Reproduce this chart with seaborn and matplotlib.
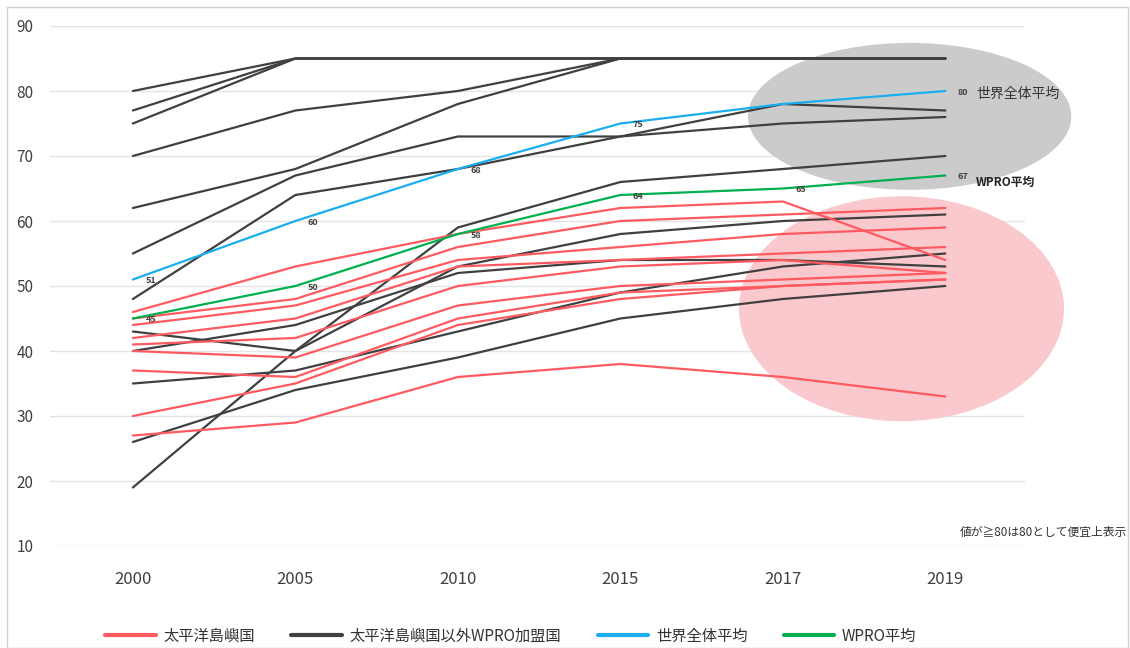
import pandas as pd
import matplotlib
matplotlib.use('Agg')
import matplotlib.pyplot as plt
from matplotlib.patches import Ellipse
from matplotlib.lines import Line2D
import seaborn as sns

years = ['2000', '2005', '2010', '2015', '2017', '2019']

# 太平洋島嶼国 (red)
pacific = [
    [46, 53, 58, 62, 63, 54],
    [45, 48, 56, 60, 61, 62],
    [44, 47, 54, 56, 58, 59],
    [42, 45, 53, 54, 55, 56],
    [41, 42, 50, 53, 54, 52],
    [40, 39, 47, 50, 51, 52],
    [37, 36, 45, 49, 50, 51],
    [30, 35, 44, 48, 50, 51],
    [27, 29, 36, 38, 36, 33],
]

# 太平洋島嶼国以外WPRO加盟国 (dark grey)
other_wpro = [
    [80, 85, 85, 85, 85, 85],
    [77, 85, 85, 85, 85, 85],
    [75, 85, 85, 85, 85, 85],
    [70, 77, 80, 85, 85, 85],
    [62, 68, 78, 85, 85, 85],
    [55, 67, 73, 73, 75, 76],
    [48, 64, 68, 73, 78, 77],
    [43, 40, 53, 58, 60, 61],
    [40, 44, 52, 54, 54, 53],
    [35, 37, 43, 49, 53, 55],
    [26, 34, 39, 45, 48, 50],
    [19, 40, 59, 66, 68, 70],
]

world_avg = [51, 60, 68, 75, 78, 80]
wpro_avg = [45, 50, 58, 64, 65, 67]
world_labels = ['51', '60', '68', '75', '', '80']
wpro_labels = ['45', '50', '58', '64', '65', '67']

groups = ['太平洋島嶼国', '太平洋島嶼国以外WPRO加盟国', '世界全体平均', 'WPRO平均']
colors = ['#ff5a60', '#404040', '#1aaef0', '#00b04f']

# long table for seaborn
rows = []
sid = 0
for grp, series in [(groups[1], other_wpro), (groups[0], pacific),
                    (groups[2], [world_avg]), (groups[3], [wpro_avg])]:
    for s in series:
        for i, v in enumerate(s):
            rows.append({'x': i, 'value': v, 'group': grp, 'sid': sid})
        sid += 1
df = pd.DataFrame(rows)

sns.set_style('white')
plt.rcParams['font.family'] = ['Noto Sans CJK JP', 'DejaVu Sans']

fig = plt.figure(figsize=(11.3, 6.48), dpi=100)
ax = fig.add_axes([50 / 1130, 1 - 546 / 648, 975 / 1130, 520 / 648])

pal = dict(zip(groups, colors))
for grp in [groups[1], groups[0], groups[2], groups[3]]:
    sub = df[df['group'] == grp]
    sns.lineplot(data=sub, x='x', y='value', units='sid', estimator=None,
                 color=pal[grp], linewidth=1.6, ax=ax, legend=False, zorder=3)

# highlight ellipses
ax.add_patch(Ellipse((4.78, 76.1), 1.99, 22.6, facecolor='#cbcbcb',
                     edgecolor='none', zorder=1.5, clip_on=False))
ax.add_patch(Ellipse((4.73, 46.5), 2.0, 34.6, facecolor='#fac9cd',
                     edgecolor='none', zorder=1.5, clip_on=False))

# data labels
for i, t in enumerate(world_labels):
    if t:
        ax.annotate(t, (i, world_avg[i]), xytext=(9, -1), textcoords='offset points',
                    fontsize=6.5, fontweight='bold', color='#404040', va='center', zorder=5)
for i, t in enumerate(wpro_labels):
    ax.annotate(t, (i, wpro_avg[i]), xytext=(9, -1), textcoords='offset points',
                fontsize=6.5, fontweight='bold', color='#404040', va='center', zorder=5)

ax.text(5.19, 79.5, '世界全体平均', fontsize=10, color='#333333', va='center')
ax.text(5.19, 66.0, 'WPRO平均', fontsize=8.5, fontweight='bold', color='#222222', va='center')
ax.text(1127 / 1130, 1 - 532 / 648, '値が≧80は80として便宜上表示', transform=fig.transFigure,
        fontsize=8.5, color='#333333', ha='right', va='center')

ax.set_xlim(-0.51, 5.49)
ax.set_ylim(10, 90)
ax.set_xticks(range(len(years)))
ax.set_xticklabels(years, fontsize=12, color='#404040')
ax.set_yticks(range(10, 91, 10))
ax.tick_params(axis='y', labelsize=11, labelcolor='#404040', pad=12, length=0)
ax.tick_params(axis='x', pad=18, length=0)
ax.yaxis.grid(True, color='#e4e4e4', linewidth=1, zorder=0)
ax.set_axisbelow(True)
ax.set_xlabel('')
ax.set_ylabel('')
sns.despine(ax=ax, left=True, bottom=True)

handles = [Line2D([0], [0], color=c, linewidth=3) for c in colors]
fig.legend(handles, groups, loc='center', bbox_to_anchor=(0.452, 1 - 636 / 648), ncol=4,
           frameon=False, fontsize=11, handlelength=3.3, columnspacing=2.4,
           handletextpad=0.5, labelcolor='#333333')

# outer frame
fig.patches.append(plt.Rectangle((7 / 1130, 0), 1 - 9 / 1130, 1 - 7 / 648,
                                 transform=fig.transFigure, fill=False,
                                 edgecolor='#d0d0d0', linewidth=1))

fig.savefig('out.png', dpi=100)
